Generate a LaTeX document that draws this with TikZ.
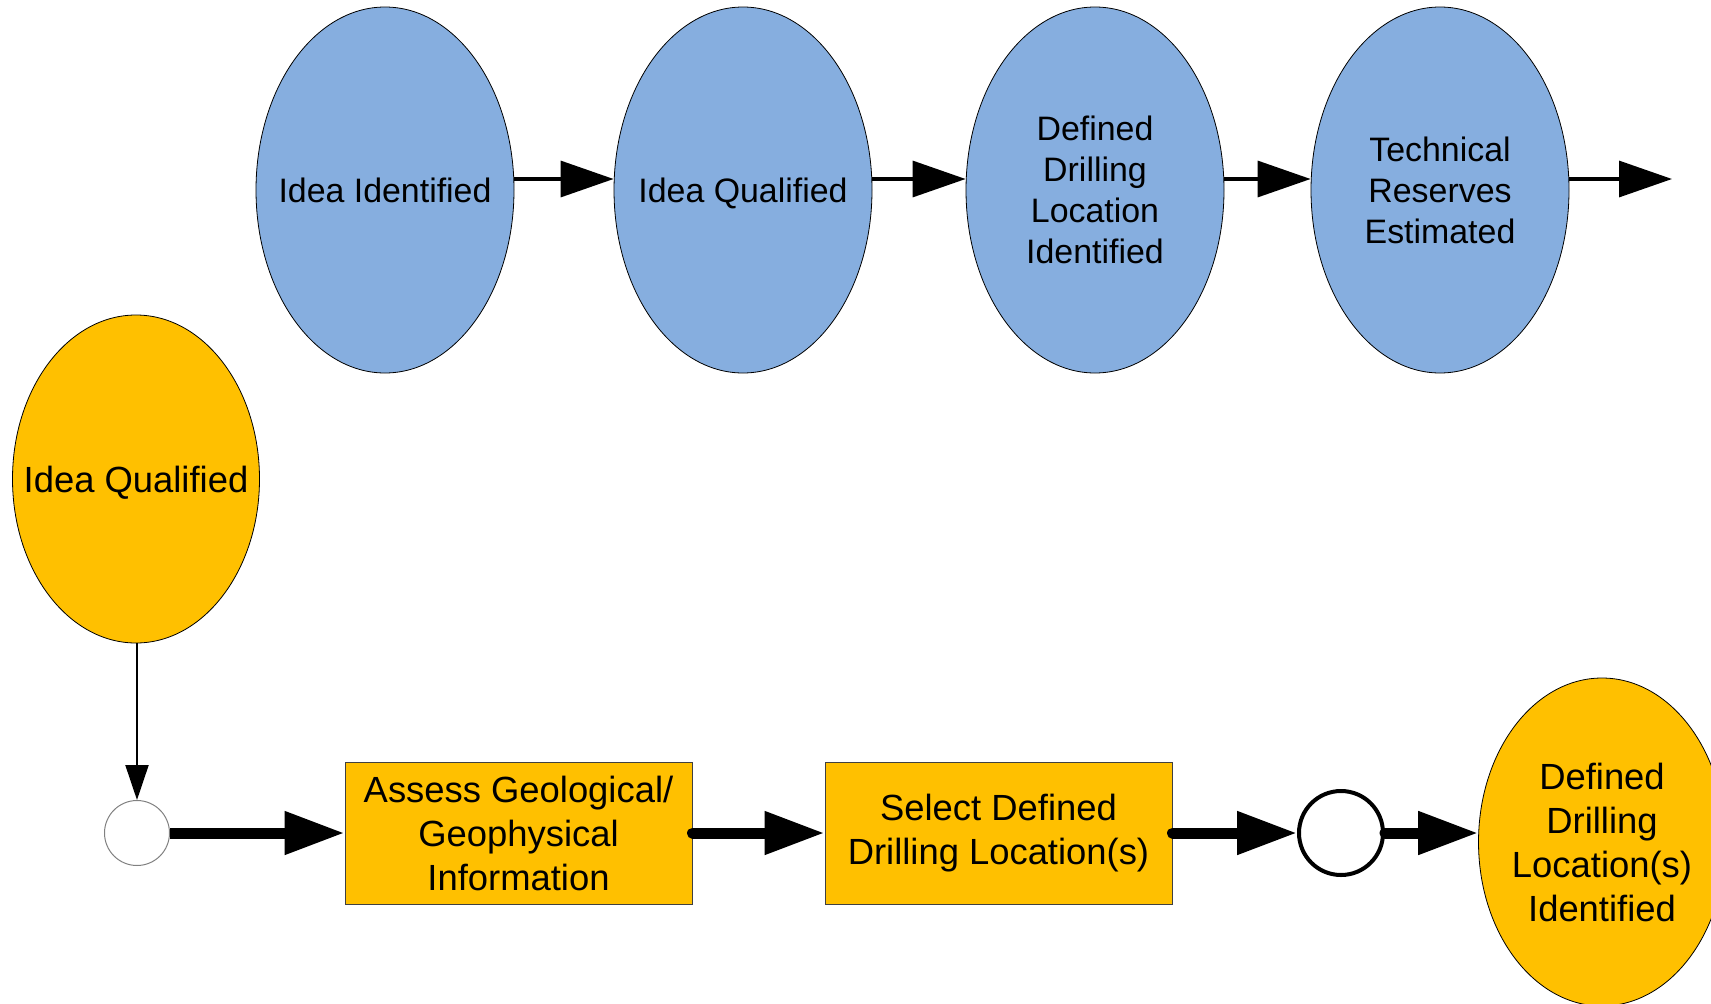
\documentclass[tikz,border=0pt]{standalone}
\usepackage{fontspec}
\setmainfont{Liberation Sans}
\usetikzlibrary{shapes.geometric,arrows.meta}
\definecolor{stageblue}{RGB}{134,174,223}
\definecolor{gold}{RGB}{255,192,0}
\newcommand{\nodepth}[1]{\raisebox{0pt}[\height][0pt]{#1}}
\begin{document}
\begin{tikzpicture}[x=1pt,y=-1pt,
 stage/.style={ellipse, draw=black, line width=0.8pt, fill=stageblue, minimum width=258pt, minimum height=366pt, inner sep=0pt},
 goal/.style={ellipse, draw=black, line width=0.8pt, fill=gold, minimum width=247pt, minimum height=328pt, inner sep=0pt},
 task/.style={rectangle, draw=black!75, line width=1pt, fill=gold, minimum width=347pt, minimum height=142pt, inner sep=0pt, align=center, font=\fontsize{36.4}{44}\selectfont},
 toptext/.style={font=\fontsize{33.9}{41}\selectfont, align=center, inner sep=0pt},
 bottext/.style={font=\fontsize{36.4}{44}\selectfont, align=center, inner sep=0pt},
 thinarrow/.style={line width=3.3pt, -{Triangle[length=53pt,width=36pt]}},
 thickarrow/.style={line width=11pt, -{Triangle[length=60pt,width=41pt]}},
 downarrow/.style={line width=2pt, -{Triangle[length=35pt,width=23pt]}},
]
\useasboundingbox (0,0) rectangle (1711,1004);

% top row
\node[stage, label={[toptext]center:Idea Identified}] (s1) at (385,190) {};
\node[stage, label={[toptext]center:\nodepth{Idea Qualified}}] (s2) at (743,190) {};
\node[stage, label={[toptext]center:Defined\\Drilling\\Location\\Identified}] (s3) at (1095,190) {};
\node[stage, label={[toptext]center:Technical\\Reserves\\Estimated}] (s4) at (1440,190) {};
\coordinate (out) at (1672,179);

\draw[thinarrow] ([yshift=11pt]s1.east) -- ([yshift=11pt]s2.west);
\draw[thinarrow] ([yshift=11pt]s2.east) -- ([yshift=11pt]s3.west);
\draw[thinarrow] ([yshift=11pt]s3.east) -- ([yshift=11pt]s4.west);
\draw[thinarrow] ([yshift=11pt]s4.east) -- (out);

% bottom row
\node[goal, label={[bottext]center:\nodepth{Idea Qualified}}] (g1) at (136,479) {};
\node[circle, draw=gray, line width=1pt, fill=white, minimum size=65pt, inner sep=0pt] (j1) at (137,833) {};
\node[task] (b1) at (518.5,833) {Assess Geological/\\Geophysical\\Information};
\node[task] (b2) at (998.5,833) {Select Defined\\Drilling Location(s)};
\node[circle, draw=black, line width=4pt, fill=white, minimum size=84pt, inner sep=0pt] (j2) at (1341,833) {};
\node[goal, label={[bottext]center:Defined\\Drilling\\Location(s)\\Identified}] (g2) at (1602,842) {};

\draw[downarrow] (g1.south -| j1.north) -- (j1.north);
\draw[thickarrow] (j1.east) -- (b1.west);
\draw[thickarrow, line cap=round] (b1.east) -- (b2.west);
\draw[thickarrow, line cap=round] (b2.east) -- (j2.west);
\draw[thickarrow, line cap=round] (j2.east) -- (j2.east -| g2.west);
\end{tikzpicture}
\end{document}
